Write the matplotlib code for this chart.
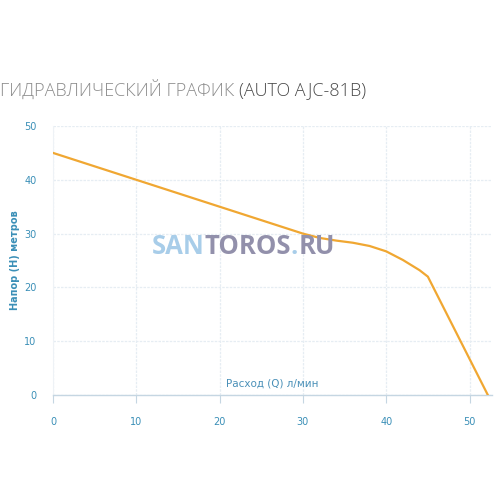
import matplotlib.pyplot as plt

# Кривая напор/расход AUTO AJC-81B
rashod = [0, 10, 20, 30, 32, 34, 36, 38, 40, 42, 44, 45, 52.2]
napor = [45, 40, 35, 30, 29.2, 28.7, 28.3, 27.7, 26.7, 25.1, 23.2, 22.0, 0]
x_ticks = [0, 10, 20, 30, 40, 50]
y_ticks = [0, 10, 20, 30, 40, 50]

tick_color = '#3a8fb7'
grid_color = '#e6edf3'

fig = plt.figure(figsize=(5, 5), dpi=100)
ax = fig.add_axes([0.106, 0.21, 0.878, 0.538])

ax.plot(rashod, napor, color='#f0a732', linewidth=1.6, zorder=3)

ax.set_xlim(0, 52.7)
ax.set_ylim(0, 50)
ax.set_xticks(x_ticks)
ax.set_yticks(y_ticks)
ax.grid(True, color=grid_color, linestyle=(0, (2, 1)), linewidth=0.9)

for s in ['top', 'right']:
    ax.spines[s].set_visible(False)
ax.spines['left'].set_color('#eef2f6')
ax.spines['bottom'].set_color('#c5d6e2')
ax.spines['bottom'].set_linewidth(1.0)

ax.tick_params(axis='x', colors='#c5d6e2', length=6, labelcolor=tick_color, labelsize=7, pad=10)
ax.tick_params(axis='y', length=0, labelcolor=tick_color, labelsize=7, pad=12)

ax.set_ylabel('Напор (H) метров', color=tick_color, fontsize=7, fontweight='bold')
ax.yaxis.set_label_coords(-0.075, 0.5)
ax.text(0.5, 0.025, 'Расход (Q) л/мин', transform=ax.transAxes, ha='center', va='bottom',
        color='#4a90b8', fontsize=7.5)

# Заголовок
title_font = dict(fontsize=13, family='Open Sans', fontweight='light', va='center')
t = fig.text(0.0, 0.82, 'ГИДРАВЛИЧЕСКИЙ ГРАФИК ', color='#8c8c8c', **title_font)
fig.canvas.draw()
bb = t.get_window_extent().transformed(fig.transFigure.inverted())
fig.text(bb.x1, 0.82, '(AUTO AJC-81B)', color='#4a4a4a', **title_font)

# Водяной знак
parts = [('SAN', '#a8cde9'), ('TOROS', '#9290ab'), ('.', '#a8cde9'), ('RU', '#9290ab')]
x0 = 0.303
for txt, col in parts:
    w = fig.text(x0, 0.508, txt, fontsize=18.5, color=col, fontweight='bold',
                 family='Open Sans', va='center', zorder=2)
    fig.canvas.draw()
    x0 = w.get_window_extent().transformed(fig.transFigure.inverted()).x1

fig.savefig('out.png', dpi=100)
